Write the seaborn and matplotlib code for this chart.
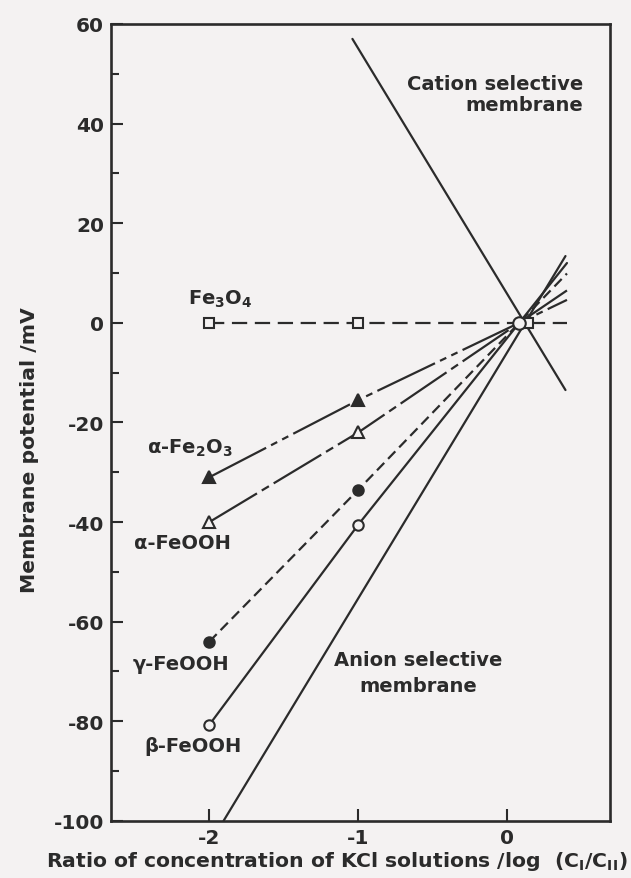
import matplotlib
matplotlib.use("Agg")
import matplotlib.pyplot as plt
import seaborn as sns
import numpy as np
import pandas as pd

# ---- data ----
x_pts = [-2, -1]
fe3o4_y = [0.0, 0.0]
a_fe2o3_y = [-31.0, -15.5]
a_feooh_y = [-40.0, -22.0]
g_feooh_y = [-64.0, -33.5]
b_feooh_y = [-80.7, -40.5]

conv_x = 0.08        # common convergence point
conv_y = 0.0
conv_sq_x = 0.14     # Fe3O4 marker near convergence
end_x = 0.40         # right end of fitted lines
end_y = {"Fe3O4": 0.0, "a-Fe2O3": 4.6, "a-FeOOH": 6.5, "g-FeOOH": 9.9, "b-FeOOH": 12.0}

cation_x = [-1.04, 0.39]
cation_y = [57.0, -13.5]
anion_x = [-1.905, 0.39]
anion_y = [-100.0, 13.4]

x_ticks = [-2, -1, 0]
y_ticks = [60, 40, 20, 0, -20, -40, -60, -80, -100]
y_minor = [50, 30, 10, -10, -30, -50, -70, -90]

# ---- style ----
sns.set_theme(style="white")
plt.rcParams['font.family'] = ['DejaVu Sans']
plt.rcParams['font.weight'] = 'bold'
plt.rcParams['lines.scale_dashes'] = False

INK = '#2b2b2b'
BG = '#f4f2f2'

fig = plt.figure(figsize=(6.31, 8.79), dpi=100, facecolor=BG)
ax = fig.add_axes([0.176, 0.065, 0.791, 0.9066])
ax.set_facecolor(BG)

series = [
    ("Fe3O4", fe3o4_y, (0, (11, 5.5)), 's', 'none', 7),
    ("a-Fe2O3", a_fe2o3_y, (0, (46, 4, 5, 4, 5, 4)), '^', INK, 8.5),
    ("a-FeOOH", a_feooh_y, (0, (40, 4, 6, 4)), '^', 'none', 8.5),
    ("g-FeOOH", g_feooh_y, (0, (7.5, 4)), 'o', INK, 7.5),
    ("b-FeOOH", b_feooh_y, '-', 'o', 'none', 7.5),
]

for name, ys, ls, mk, fc, ms in series:
    lx = x_pts + [conv_x, end_x]
    ly = ys + [conv_y, end_y[name]]
    sns.lineplot(x=lx, y=ly, ax=ax, color=INK, linewidth=1.6, linestyle=ls,
                 sort=False, estimator=None)
for name, ys, ls, mk, fc, ms in series:
    ax.plot(x_pts, ys, linestyle='none', marker=mk, markersize=ms,
            markerfacecolor=BG if fc == 'none' else fc, markeredgecolor=INK,
            markeredgewidth=1.5, zorder=5)

sns.lineplot(x=cation_x, y=cation_y, ax=ax, color=INK, linewidth=1.6, sort=False, estimator=None)
sns.lineplot(x=anion_x, y=anion_y, ax=ax, color=INK, linewidth=1.6, sort=False, estimator=None)

ax.plot([conv_sq_x], [conv_y], linestyle='none', marker='s', markersize=7,
        markerfacecolor=BG, markeredgecolor=INK, markeredgewidth=1.5, zorder=5)
ax.plot([conv_x], [conv_y], linestyle='none', marker='o', markersize=9,
        markerfacecolor=BG, markeredgecolor=INK, markeredgewidth=1.5, zorder=6)

ax.set_xlim(-2.66, 0.69)
ax.set_ylim(-100, 60)
ax.set_xticks(x_ticks)
ax.set_xticklabels([str(t) for t in x_ticks])
ax.set_yticks(y_ticks)
ax.set_yticklabels([str(t) for t in y_ticks])
ax.set_yticks(y_minor, minor=True)

ax.tick_params(axis='both', which='major', direction='in', length=8.5, width=1.5,
               colors=INK, labelsize=14.5, pad=5, left=True, bottom=True)
ax.tick_params(axis='y', which='minor', direction='in', length=5.5, width=1.5,
               colors=INK, left=True)
for lab in ax.get_xticklabels() + ax.get_yticklabels():
    lab.set_fontweight('bold')

for sp in ax.spines.values():
    sp.set_color(INK)
    sp.set_linewidth(1.9)

ax.set_ylabel("Membrane potential /mV", fontsize=14.7, fontweight='bold', color=INK)
ax.yaxis.set_label_coords(-0.145, 0.467)
ax.set_xlabel(r"Ratio of concentration of KCl solutions /log  (C$_{\mathbf{I}}$/C$_{\mathbf{II}}$)",
              fontsize=14.7, fontweight='bold', color=INK)
ax.xaxis.set_label_coords(0.452, -0.035)

tkw = dict(fontsize=14, fontweight='bold', color=INK)
ax.text(0.51, 48.0, "Cation selective", ha='right', va='center', **tkw)
ax.text(0.51, 43.8, "membrane", ha='right', va='center', **tkw)
ax.text(-0.6, -67.7, "Anion selective", ha='center', va='center', **tkw)
ax.text(-0.6, -72.8, "membrane", ha='center', va='center', **tkw)

ax.text(-1.93, 5.0, r"Fe$_{\mathbf{3}}$O$_{\mathbf{4}}$", ha='center', va='center', **tkw)
ax.text(-2.13, -25.0, r"α-Fe$_{\mathbf{2}}$O$_{\mathbf{3}}$", ha='center', va='center', **tkw)
ax.text(-2.18, -44.2, "α-FeOOH", ha='center', va='center', **tkw)
ax.text(-2.19, -68.4, "γ-FeOOH", ha='center', va='center', **tkw)
ax.text(-2.11, -84.8, "β-FeOOH", ha='center', va='center', **tkw)

fig.savefig("out.png", dpi=100, facecolor=BG)
